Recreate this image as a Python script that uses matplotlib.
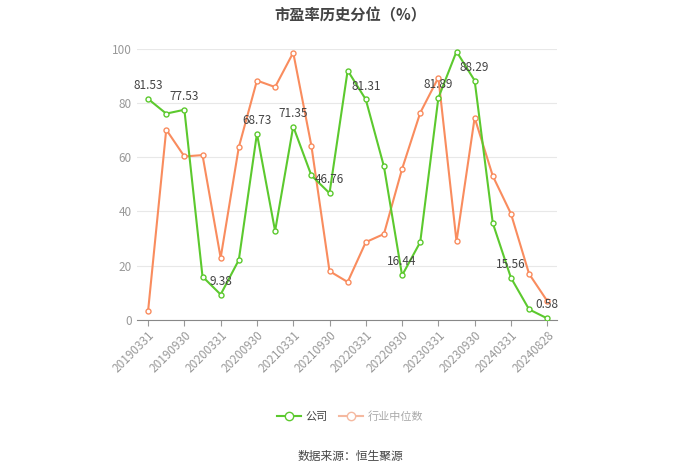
import matplotlib
matplotlib.use('Agg')
import matplotlib.pyplot as plt
from matplotlib.lines import Line2D

plt.rcParams['font.family'] = ['Noto Sans CJK SC', 'DejaVu Sans']

# 报告期
dates = ['20190331', '20190630', '20190930', '20191231', '20200331', '20200630',
         '20200930', '20201231', '20210331', '20210630', '20210930', '20211231',
         '20220331', '20220630', '20220930', '20221231', '20230331', '20230630',
         '20230930', '20231231', '20240331', '20240630', '20240828']

# 公司市盈率历史分位
company = [81.53, 76.1, 77.53, 16.0, 9.38, 22.1, 68.73, 32.8, 71.35, 53.3, 46.76, 92.0,
           81.31, 56.6, 16.44, 28.7, 81.89, 99.0, 88.29, 35.7, 15.56, 3.9, 0.58]

# 行业中位数
industry = [3.3, 70.2, 60.3, 60.8, 22.9, 63.7, 88.3, 85.9, 98.6, 64.3, 18.0, 14.0,
            28.7, 31.7, 55.7, 76.4, 89.4, 29.0, 74.6, 53.1, 39.2, 17.0, 7.0]

green = '#5cc92e'
orange = '#f98c5e'
grey_txt = '#999999'

fig = plt.figure(figsize=(7, 4.74), dpi=100)
ax = fig.add_axes([0.196, 0.325, 0.60, 0.572])

x = list(range(len(dates)))
ax.plot(x, industry, color=orange, lw=1.5, marker='o', ms=3.6,
        mfc='white', mec=orange, mew=1.0, zorder=3)
ax.plot(x, company, color=green, lw=1.5, marker='o', ms=3.6,
        mfc='white', mec=green, mew=1.0, zorder=4)

# 每隔一个点标注公司数值
for i in range(0, len(dates), 2):
    ax.annotate(f'{company[i]:.2f}', (x[i], company[i]), xytext=(0, 5),
                textcoords='offset points', ha='center', va='bottom',
                fontsize=8.5, color='#444444', zorder=5)

ax.set_ylim(0, 100)
ax.set_xlim(-0.6, len(dates) - 0.45)
ax.set_yticks([0, 20, 40, 60, 80, 100])
ax.set_xticks(x[::2])
ax.set_xticklabels(dates[::2], rotation=45, ha='right', rotation_mode='anchor',
                   fontsize=8.5, color=grey_txt)
ax.tick_params(axis='y', length=0, labelsize=8.5, labelcolor=grey_txt, pad=4)
ax.tick_params(axis='x', length=4, color='#999999', pad=2)
ax.yaxis.grid(True, color='#e8e8e8', lw=0.8)
ax.set_axisbelow(True)
for s in ['top', 'right', 'left']:
    ax.spines[s].set_visible(False)
ax.spines['bottom'].set_color('#888888')

fig.suptitle('市盈率历史分位（%）', x=0.5, y=0.985, fontsize=11,
             fontweight='bold', color='#444444')

handles = [
    Line2D([], [], color=green, lw=1.5, marker='o', ms=6, mfc='white', mec=green),
    Line2D([], [], color='#f5b9a0', lw=1.5, marker='o', ms=6, mfc='white', mec='#f5b9a0'),
]
leg = fig.legend(handles, ['公司', '行业中位数'], loc='center', bbox_to_anchor=(0.5, 0.122),
                 ncol=2, frameon=False, fontsize=8, handlelength=2.2,
                 columnspacing=1.0, handletextpad=0.4)
leg.get_texts()[0].set_color('#444444')
leg.get_texts()[1].set_color('#aaaaaa')

fig.text(0.5, 0.036, '数据来源：恒生聚源', ha='center', va='center',
         fontsize=8.5, color='#444444')

fig.savefig('out.png', dpi=100)
